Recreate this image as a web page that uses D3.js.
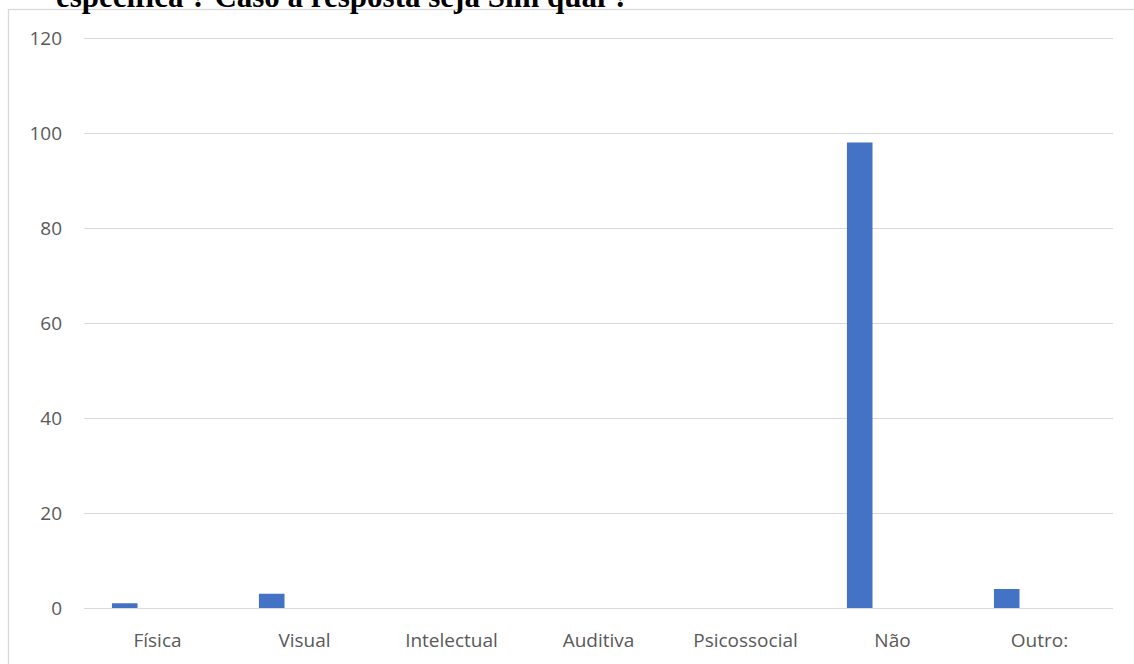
<!DOCTYPE html>
<html>
<head>
<meta charset="utf-8">
<script src="https://cdn.jsdelivr.net/npm/d3@7"></script>
<style>
  html, body { margin: 0; padding: 0; background: #fff; }
  svg { display: block; }
</style>
</head>
<body>
<svg id="chart" width="1134" height="664"></svg>
<script>
const titleText = "específica ? Caso a resposta seja Sim qual ?";
const categories = ["Física", "Visual", "Intelectual", "Auditiva", "Psicossocial", "Não", "Outro:"];
const values = [1, 3, 0, 0, 0, 98, 4];
const yTicks = [0, 20, 40, 60, 80, 100, 120];

const svg = d3.select("#chart");
const W = 1134, H = 664;
const margin = { left: 84, right: 21, top: 38, bottom: 56 };

// chart border
svg.append("rect")
  .attr("x", 8.5).attr("y", 9.5)
  .attr("width", W + 20).attr("height", H + 20)
  .attr("fill", "none").attr("stroke", "#d9d9d9").attr("stroke-width", 1.3);

// clipped title (cut off at the top edge, as in the reference)
svg.append("text")
  .attr("x", 56).attr("y", 7)
  .attr("font-family", "'Liberation Serif', 'DejaVu Serif', serif")
  .attr("font-weight", "bold")
  .attr("font-size", 31)
  .attr("fill", "#000")
  .text(titleText);

const x = d3.scaleBand()
  .domain(categories)
  .range([margin.left, W - margin.right])
  .padding(0);

const y = d3.scaleLinear()
  .domain([0, 120])
  .range([H - margin.bottom, margin.top]);

// gridlines
svg.append("g")
  .selectAll("line")
  .data(yTicks)
  .join("line")
  .attr("x1", margin.left).attr("x2", W - margin.right)
  .attr("y1", d => Math.round(y(d)) + 0.5).attr("y2", d => Math.round(y(d)) + 0.5)
  .attr("stroke", "#d9d9d9").attr("stroke-width", 1.2);

// y axis labels
const yAxis = d3.axisLeft(y).tickValues(yTicks).tickSize(0).tickPadding(0);
const gy = svg.append("g")
  .attr("transform", `translate(${margin.left - 22},0)`)
  .call(yAxis);
gy.select(".domain").remove();
gy.selectAll("text")
  .attr("font-family", "'Open Sans', sans-serif")
  .attr("font-size", 19)
  .attr("fill", "#595959");

// bars
const bw = x.bandwidth();
svg.append("g")
  .selectAll("rect")
  .data(categories.map((c, i) => ({ c, v: values[i] })))
  .join("rect")
  .attr("x", d => x(d.c) + bw * 0.19)
  .attr("width", bw * 0.174)
  .attr("y", d => y(d.v))
  .attr("height", d => y(0) - y(d.v))
  .attr("fill", "#4472C4");

// x axis labels
const xAxis = d3.axisBottom(x).tickSize(0).tickPadding(0);
const gx = svg.append("g")
  .attr("transform", `translate(0,${H - margin.bottom})`)
  .call(xAxis);
gx.select(".domain").remove();
gx.selectAll("text")
  .attr("dy", null)
  .attr("y", 39)
  .attr("font-family", "'Open Sans', sans-serif")
  .attr("font-size", 19)
  .attr("fill", "#595959");
</script>
</body>
</html>
